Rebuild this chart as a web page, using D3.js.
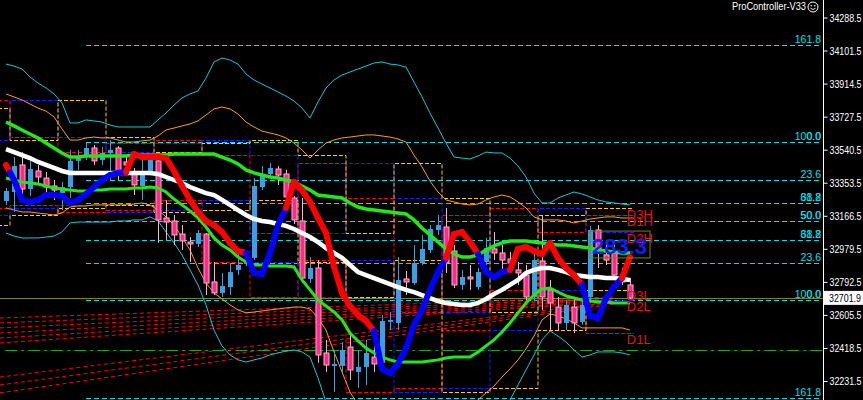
<!DOCTYPE html>
<html><head><meta charset="utf-8">
<script src="https://cdn.jsdelivr.net/npm/d3@7"></script>
<style>html,body{margin:0;padding:0;background:#000;overflow:hidden}</style>
</head><body><svg id="c" width="863" height="400"></svg>
<script>
// ---------- DATA ----------
const opens = [33250,33301,33454,33318,33420,33380,33335,33295,33329,33477,
33510,33550,33482,33522,33550,33471,33409,33335,33420,33477,
33154,33137,33063,33018,33007,33063,32792,32730,32763,32860,
32894,32928,33329,33403,33431,33403,33267,33137,32809,32871,
32390,32317,32317,32424,32283,32311,32367,32334,32566,32560,
32809,32786,32899,32973,33086,33103,32967,32775,32820,32763,
32905,32979,32956,32922,32860,32831,32707,32911,32747,32650,
32560,32650,32566,32707,33086,32945,32956,32820,32775];
const highs = [33324,33499,33527,33482,33454,33414,33369,33358,33539,33539,
33578,33567,33556,33595,33561,33499,33437,33482,33510,33510,
33256,33171,33114,33046,33086,33069,32905,32843,32899,32973,
32945,33380,33448,33465,33448,33426,33278,33267,32933,32916,
32464,32407,32452,32492,32407,32464,32447,32605,32622,32933,
32854,33001,33058,33114,33171,33211,33001,32860,32888,32871,
33041,33075,33001,32962,32905,32888,32973,33171,32803,32707,
32690,32707,32713,33109,33114,33013,33001,32871,32814];
const lows = [33228,33188,33256,33278,33352,33301,33256,33199,33267,33426,
33482,33454,33454,33369,33369,33426,33284,33256,33397,33013,
33030,33001,32973,32905,32990,32718,32718,32707,32718,32831,
32882,32916,33312,33380,33341,33228,33120,32786,32786,32334,
32283,32169,32266,32237,32192,32209,32283,32294,32520,32520,
32718,32775,32888,32956,33058,32843,32758,32747,32747,32747,
32888,32916,32860,32860,32775,32690,32690,32634,32520,32520,
32520,32503,32549,32690,32871,32888,32803,32775,32696];
const closes = [33307,33448,33318,33431,33386,33329,33312,33329,33477,33499,
33550,33477,33522,33539,33414,33454,33341,33414,33482,33143,
33131,33058,33024,33007,33069,32786,32730,32769,32848,32888,
32916,33335,33392,33437,33397,33273,33143,32814,32871,32379,
32322,32328,32407,32294,32311,32390,32328,32571,32577,32803,
32792,32899,32979,33092,33114,32899,32775,32820,32809,32848,
32984,32956,32916,32899,32843,32707,32916,32707,32673,32560,
32662,32560,32662,33086,32973,32916,32831,32792,32701.9];

const maWhite = [33544,33527,33510,33493,33471,33454,33437,33420,33409,33409,
33409,33409,33409,33409,33409,33409,33409,33409,33409,33403,
33386,33369,33352,33329,33312,33295,33284,33256,33228,33199,
33171,33148,33137,33131,33120,33109,33092,33069,33046,33018,
32984,32956,32928,32888,32848,32831,32814,32797,32780,32763,
32747,32735,32718,32701,32684,32673,32667,32662,32662,32673,
32696,32724,32747,32775,32803,32843,32860,32871,32871,32860,
32848,32831,32826,32820,32820,32814,32814,32809,32803];
const maGreenUpper = [33697,33675,33652,33629,33607,33578,33550,33522,33499,33499,
33505,33505,33505,33505,33505,33505,33510,33510,33510,33510,
33510,33516,33516,33516,33516,33516,33516,33499,33482,33460,
33426,33409,33397,33386,33380,33369,33358,33335,33312,33284,
33278,33273,33267,33239,33216,33205,33199,33194,33188,33182,
33177,33143,33097,33058,33018,32979,32950,32933,32933,32945,
32973,32996,33013,33024,33024,33024,33018,33013,33007,33001,
33001,32996,32990,32984,32973,32967,32962,32956,32956];
const maGreenLower = [33380,33369,33358,33352,33346,33335,33324,33318,33312,33307,
33307,33312,33312,33318,33318,33318,33324,33324,33329,33324,
33301,33261,33228,33194,33154,33103,33041,33001,32973,32933,
32905,32888,32888,32882,32882,32882,32877,32803,32747,32690,
32656,32622,32577,32503,32458,32418,32390,32367,32351,32339,
32339,32339,32339,32345,32351,32362,32367,32367,32367,32396,
32430,32464,32509,32560,32617,32673,32718,32752,32758,32735,
32713,32701,32690,32684,32679,32679,32673,32673,32673];
const trendLine = [33454,33369,33256,33245,33256,33284,33284,33278,33239,33256,
33290,33329,33369,33397,33409,33414,33516,33499,33499,33499,
33493,33420,33335,33256,33188,33137,33114,33075,33013,32967,
32956,32843,32837,32956,33114,33211,33358,33312,33245,33154,
33069,32877,32730,32656,32605,32571,32515,32300,32277,32328,
32418,32549,32634,32747,32848,32928,33063,33075,33018,32950,
32848,32820,32848,32860,32979,32990,32967,32950,33013,32928,
32871,32831,32775,32600,32588,32701,32763,32814,32933];
const trendDown = [1,0,0,0,0,0,0,0,0,0,0,0,0,0,0,0,1,1,1,1,1,1,1,1,1,1,1,1,1,1,1,
0,0,0,0,0,1,1,1,1,1,1,1,1,1,1,1,0,0,0,0,0,0,0,0,0,1,1,1,1,0,0,0,0,
1,1,1,1,1,1,1,1,1,0,0,0,0,0,1];

const bbOuterUpper = [34025,34014,33997,33952,33918,33890,33856,33805,33692,33692,
33709,33703,33697,33680,33669,33669,33669,33669,33669,33709,
33748,33793,33833,33856,33873,33946,34037,34059,34048,34025,
33969,33935,33912,33890,33867,33844,33816,33776,33720,33810,
33890,33935,33963,33980,33997,34014,34031,34037,34025,34020,
34008,33923,33839,33748,33663,33578,33499,33493,33488,33505,
33527,33522,33522,33493,33448,33386,33295,33239,33239,33267,
33284,33301,33290,33273,33256,33245,33239,33233,33228];
const bbOuterLower = [33069,33052,33041,33041,33041,33046,33052,33075,33126,33131,
33131,33131,33131,33131,33137,33137,33143,33143,33160,33137,
33075,33013,32945,32860,32775,32662,32520,32430,32379,32351,
32339,32351,32362,32379,32390,32401,32407,32396,32367,32249,
32113,32011,31926,31870,31830,31807,31796,31785,31785,31796,
31807,31824,31841,31853,31864,31870,31875,31881,31886,31909,
31955,32011,32068,32124,32209,32294,32379,32464,32515,32486,
32452,32407,32367,32379,32396,32396,32396,32390,32379];
const bbInnerUpper = [33856,33839,33822,33799,33776,33759,33726,33658,33595,33595,
33607,33612,33607,33607,33595,33584,33584,33590,33595,33618,
33652,33663,33675,33686,33703,33737,33771,33782,33771,33742,
33697,33669,33646,33635,33624,33607,33578,33539,33493,33539,
33578,33595,33607,33612,33618,33624,33624,33618,33612,33601,
33584,33510,33443,33363,33301,33256,33245,33233,33228,33233,
33256,33273,33284,33273,33245,33211,33160,33143,33143,33143,
33137,33126,33137,33148,33154,33160,33160,33154,33154];
const bbInnerLower = [33211,33199,33188,33188,33182,33177,33171,33182,33216,33222,
33222,33228,33228,33228,33228,33228,33233,33239,33228,33199,
33160,33114,33046,32973,32871,32786,32730,32696,32662,32634,
32617,32622,32628,32634,32639,32645,32650,32650,32639,32588,
32520,32396,32283,32169,32096,32056,32022,32011,32006,32006,
32011,32017,32022,32028,32034,32039,32051,32068,32096,32124,
32164,32203,32254,32300,32351,32413,32486,32577,32611,32600,
32583,32560,32532,32532,32532,32532,32532,32532,32520];

const fanStart = [32588,32560,32532,32503,32475,32447,32254,32209,32164];
const fanEnd   = [32707,32701,32696,32690,32684,32679,32679,32673,32667];

const preDayHigh = [33776,33595,33822,33612];   // days -3..0
const preDayLow  = [33114,33171,33211,33228];

const yTicks = [34288.5,34101.5,33914.5,33727.5,33540.5,33353.5,33166.5,32979.5,32792.5,32605.5,32418.5,32231.5];
const fibHigh = 33582, fibLow = 32688;
const fibLevels = [0,23.6,38.2,50,61.8,100,161.8];
const currentPrice = 32701.9;
const levelPrice = 32406;
const measureText = "283.3";
const measureTop = 33080, measureBottom = 32928;
const titleText = "ProController-V33";

// ---------- SCALES ----------
const svg = d3.select('#c');
const W = 863, H = 400, PR = 823;
const x = d3.scaleLinear().domain([-0.75, 102.125]).range([0, PR]);
const y = d3.scaleLinear().domain([34288.5, 32231.5]).range([17.5, 381]);
svg.append('rect').attr('width',W).attr('height',H).attr('fill','#000');
svg.append('defs').append('clipPath').attr('id','clip')
  .append('rect').attr('x',0).attr('y',0).attr('width',PR).attr('height',H);
const plot = svg.append('g').attr('clip-path','url(#clip)');
const FONT = "'Liberation Sans', Arial, sans-serif";

// fib lines
const fibRows = [];
fibLevels.forEach(l => {
  fibRows.push({p: fibLow + (fibHigh-fibLow)*l/100, label: l.toFixed(1)});
  fibRows.push({p: fibHigh - (fibHigh-fibLow)*l/100, label: l.toFixed(1)});
});
const fibG = plot.append('g');
fibG.selectAll('line').data(fibRows).join('line')
  .attr('x1', x(10)).attr('x2', 821)
  .attr('y1', d => Math.round(y(d.p))+0.5).attr('y2', d => Math.round(y(d.p))+0.5)
  .attr('stroke','#00e0ec').attr('stroke-width',1).attr('stroke-dasharray','5,3');
fibG.selectAll('text').data(fibRows).join('text')
  .attr('x', 821).attr('y', d => Math.round(y(d.p))-2)
  .attr('text-anchor','end').attr('fill','#00e0ec')
  .attr('font-family',FONT).attr('font-size','10.5px').text(d => d.label);

// fan lines
plot.append('g').selectAll('line').data(fanStart).join('line')
  .attr('x1', x(-0.75)).attr('y1', d => y(d))
  .attr('x2', x(76)).attr('y2', (d,i) => y(fanEnd[i]))
  .attr('stroke','#ff0000').attr('stroke-width',1).attr('stroke-dasharray','4,3');

// level dash-dot line
plot.append('line').attr('x1', x(-0.1)).attr('x2', PR)
  .attr('y1', Math.round(y(levelPrice))+0.5).attr('y2', Math.round(y(levelPrice))+0.5)
  .attr('stroke','#1fa51f').attr('stroke-width',1).attr('stroke-dasharray','12,4,3,4');

// current price line
plot.append('line').attr('x1',0).attr('x2',PR)
  .attr('y1', Math.round(y(currentPrice))+0.5).attr('y2', Math.round(y(currentPrice))+0.5)
  .attr('stroke','#8a7f1c').attr('stroke-width',1);

// daily high/low step lines
function dayStat(d) {
  if (d <= 0) return {h: preDayHigh[d+3], l: preDayLow[d+3]};
  const idx = d3.range(6*d-5, 6*d+1);
  return {h: d3.max(idx, i => highs[i]), l: d3.min(idx, i => lows[i])};
}
const nDays = 13;
const dDefs = [{lag:1,color:'#ff0000'},{lag:2,color:'#1a1aff'},{lag:3,color:'#ffcc00'}];
const stepLine = d3.line().x(d => x(d.s)).y(d => Math.round(y(d.v))+0.5).curve(d3.curveStepAfter);
const dG = plot.append('g');
const lastVals = [];
dDefs.forEach(def => {
  ['h','l'].forEach(k => {
    const pts = d3.range(0, nDays+1).map(d => ({s: 0.5 + 6*(d-1), v: dayStat(d-def.lag)[k]}));
    pts.push({s: 0.5 + 6*nDays, v: pts[pts.length-1].v});
    dG.append('path').attr('d', stepLine(pts)).attr('fill','none')
      .attr('stroke', def.color).attr('stroke-width',1).attr('stroke-dasharray','4,2');
    lastVals.push({label: 'D' + def.lag + (k==='h'?'H':'L'), v: pts[pts.length-1].v});
  });
});

// Bollinger-style bands
const line = d3.line().x((d,i) => x(i)).y(d => y(d));
[[bbOuterUpper,'#1cc4d4'],[bbOuterLower,'#1cc4d4'],[bbInnerUpper,'#ffa000'],[bbInnerLower,'#ffa000']]
  .forEach(([arr,c]) => plot.append('path').attr('d', line(arr)).attr('fill','none')
    .attr('stroke', c).attr('stroke-width',1));

// candles
const cG = plot.append('g');
d3.range(opens.length).forEach(i => {
  const bull = closes[i] >= opens[i];
  const cx = Math.round(x(i));
  const wickC = bull ? '#3a9ee8' : '#ffb0cc';
  cG.append('line').attr('x1', cx+0.5).attr('x2', cx+0.5)
    .attr('y1', y(highs[i])).attr('y2', y(lows[i])).attr('stroke', wickC).attr('stroke-width',1);
  const top = y(Math.max(opens[i], closes[i])), bot = y(Math.min(opens[i], closes[i]));
  cG.append('rect').attr('x', cx-2).attr('y', top).attr('width', 5)
    .attr('height', Math.max(1, bot-top))
    .attr('fill', bull ? '#3a9ee8' : '#ff2a8c')
    .attr('stroke', bull ? 'none' : '#ffb0cc').attr('stroke-width', bull ? 0 : 1);
});

// moving averages
plot.append('path').attr('d', line(maGreenLower)).attr('fill','none')
  .attr('stroke','#22e81a').attr('stroke-width',3);
plot.append('path').attr('d', line(maGreenUpper)).attr('fill','none')
  .attr('stroke','#22e81a').attr('stroke-width',3.5);
plot.append('path').attr('d', line(maWhite)).attr('fill','none')
  .attr('stroke','#ffffff').attr('stroke-width',4.5);
const tG = plot.append('g');
for (let i = 0; i < trendLine.length-1; i++) {
  const c = (i === 0 ? trendDown[0] : trendDown[i+1]) ? '#ff0000' : '#0000ff';
  tG.append('line').attr('x1', x(i)).attr('y1', y(trendLine[i]))
    .attr('x2', i === 0 ? (x(0)+x(1))/2 : x(i+1))
    .attr('y2', i === 0 ? (y(trendLine[0])+y(trendLine[1]))/2 : y(trendLine[i+1]))
    .attr('stroke', c).attr('stroke-width',6).attr('stroke-linecap','round');
  if (i === 0) {
    tG.append('line').attr('x1', (x(0)+x(1))/2).attr('y1', (y(trendLine[0])+y(trendLine[1]))/2)
      .attr('x2', x(1)).attr('y2', y(trendLine[1]))
      .attr('stroke', trendDown[1] ? '#ff0000' : '#0000ff')
      .attr('stroke-width',6).attr('stroke-linecap','round');
  }
}

// D labels
plot.append('g').selectAll('text').data(lastVals).join('text')
  .attr('x', x(77.6)).attr('y', d => y(d.v)+1).attr('dominant-baseline','hanging')
  .attr('fill','#e81010').attr('font-family',FONT).attr('font-size','13px')
  .text(d => d.label);

// measure box (object drawn on top)
plot.append('rect').attr('x', x(73)).attr('y', y(measureTop))
  .attr('width', x(80.5)-x(73)).attr('height', y(measureBottom)-y(measureTop))
  .attr('fill','none').attr('stroke','#808000').attr('stroke-width',1);
plot.append('text').attr('x', x(73)+2).attr('y', y(measureBottom)-4)
  .attr('fill','#0a22ff').attr('font-family',FONT).attr('font-weight','bold')
  .attr('font-size','22px').text(measureText);

// axis
svg.append('line').attr('x1',PR+0.5).attr('x2',PR+0.5).attr('y1',0).attr('y2',H)
  .attr('stroke','#ffffff').attr('stroke-width',1);
const ax = svg.append('g').attr('transform',`translate(${PR+0.5},0)`)
  .call(d3.axisRight(y).tickValues(yTicks).tickFormat(d => d.toFixed(1))
    .tickSize(4).tickPadding(2).tickSizeOuter(0));
ax.select('.domain').remove();
ax.selectAll('line').attr('stroke','#ffffff');
ax.selectAll('text').attr('fill','#ffffff').attr('font-family',FONT).attr('font-size','11px')
  .attr('textLength',32).attr('lengthAdjust','spacingAndGlyphs');

// current price label
const cpY = y(currentPrice);
svg.append('rect').attr('x', PR+1).attr('y', cpY-7).attr('width', W-PR-1).attr('height', 14)
  .attr('fill','#ffffff');
svg.append('text').attr('x', PR+6).attr('y', cpY+4).attr('fill','#000')
  .attr('font-family',FONT).attr('font-size','11px')
  .attr('textLength',32).attr('lengthAdjust','spacingAndGlyphs').text(currentPrice.toFixed(1));

// title
svg.append('text').attr('x', 732).attr('y', 10).attr('fill','#ffffff')
  .attr('font-family',FONT).attr('font-size','10.5px')
  .attr('textLength',74).attr('lengthAdjust','spacingAndGlyphs').text(titleText);
const sm = svg.append('g').attr('transform','translate(813,7)');
sm.append('circle').attr('r',5).attr('fill','none').attr('stroke','#fff').attr('stroke-width',1);
sm.append('circle').attr('cx',-1.8).attr('cy',-1.3).attr('r',0.8).attr('fill','#fff');
sm.append('circle').attr('cx',1.8).attr('cy',-1.3).attr('r',0.8).attr('fill','#fff');
sm.append('path').attr('d','M-2.6,1.2 Q0,3.8 2.6,1.2').attr('fill','none').attr('stroke','#fff').attr('stroke-width',0.9);
</script></body></html>
